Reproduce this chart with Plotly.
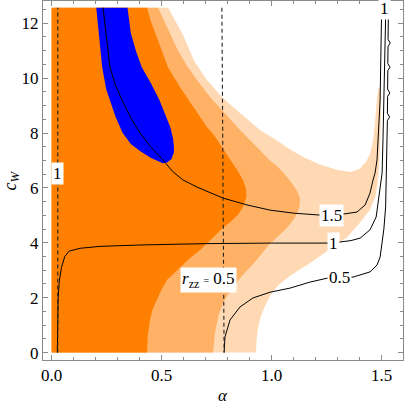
import plotly.graph_objects as go

# ---------------- data (alpha, c_W) ----------------
# outer (lightest orange) region boundary
light_alpha = [0.0, 0.929, 0.932, 0.938, 0.95, 0.97, 0.995, 1.03, 1.084, 1.175, 1.26, 1.343, 1.40,
               1.447, 1.472, 1.482, 1.488, 1.493, 1.497, 1.497, 1.492, 1.486, 1.478, 1.47, 1.462,
               1.45, 1.43, 1.40, 1.36, 1.30, 1.22, 1.143, 1.084, 1.038, 0.947, 0.856, 0.774,
               0.706, 0.65, 0.593, 0.56, 0.529, 0.0]
light_c = [0.0, 0.0, 0.5, 0.9, 1.3, 1.7, 2.1, 2.45, 2.8, 3.26, 3.74, 4.2, 4.72,
           5.2, 5.7, 6.2, 6.8, 7.75, 8.6, 9.3, 9.6, 9.65, 9.2, 8.4, 7.8,
           7.3, 6.95, 6.7, 6.58, 6.65, 6.85, 7.13, 7.4, 7.65, 8.11, 8.73, 9.31,
           9.93, 10.6, 11.64, 12.1, 12.566, 12.566]

# middle orange region boundary
mid_alpha = [0.0, 0.734, 0.742, 0.76, 0.785, 0.815, 0.85, 0.89, 0.935, 0.985, 1.03, 1.07, 1.10,
             1.118, 1.128, 1.128, 1.115, 1.09, 1.06, 1.03, 0.993, 0.955, 0.915, 0.843, 0.774,
             0.72, 0.661, 0.615, 0.575, 0.538, 0.51, 0.484, 0.0]
mid_c = [0.0, 0.0, 0.7, 1.4, 1.9, 2.3, 2.65, 3.0, 3.4, 3.9, 4.25, 4.55, 4.85,
         5.1, 5.4, 5.65, 5.9, 6.2, 6.5, 6.75, 7.0, 7.3, 7.64, 8.22, 8.84,
         9.31, 9.93, 10.45, 11.0, 11.64, 12.1, 12.566, 12.566]

# dark orange region boundary
dark_alpha = [0.0, 0.434, 0.437, 0.447, 0.46, 0.479, 0.5, 0.525, 0.584, 0.63, 0.675, 0.734, 0.78,
              0.811, 0.845, 0.87, 0.885, 0.884, 0.87, 0.843, 0.805, 0.775, 0.74, 0.706, 0.643,
              0.584, 0.529, 0.50, 0.47, 0.45, 0.434, 0.0]
dark_c = [0.0, 0.0, 0.6, 1.19, 1.6, 1.95, 2.3, 2.65, 3.12, 3.45, 3.74, 4.21, 4.55,
          4.75, 5.0, 5.3, 5.65, 5.95, 6.29, 6.65, 7.1, 7.5, 7.9, 8.22, 8.95,
          9.67, 10.4, 11.0, 11.64, 12.1, 12.566, 12.566]

# blue region boundary
blue_alpha = [0.203, 0.216, 0.23, 0.248, 0.264, 0.29, 0.323, 0.36, 0.40, 0.45, 0.505, 0.525,
              0.545, 0.556, 0.556, 0.552, 0.54, 0.515, 0.49, 0.452, 0.41, 0.383, 0.36, 0.345]
blue_c = [12.566, 11.5, 10.4, 9.6, 9.2, 8.6, 8.0, 7.6, 7.35, 7.1, 6.9, 6.93,
          7.05, 7.3, 7.5, 7.8, 8.2, 8.7, 9.2, 9.8, 10.4, 11.0, 11.64, 12.566]

# contour lines
c15_alpha = [0.234, 0.25, 0.265, 0.29, 0.32, 0.36, 0.402, 0.45, 0.506, 0.55, 0.597, 0.661, 0.72,
             0.779, 0.888, 0.993, 1.10, 1.22, 1.32, 1.388, 1.425, 1.447, 1.461, 1.47, 1.479,
             1.484, 1.493, 1.50]
c15_c = [12.566, 11.4, 10.4, 9.75, 9.2, 8.55, 8.0, 7.5, 7.02, 6.6, 6.29, 6.03, 5.82,
         5.63, 5.38, 5.19, 5.08, 5.01, 5.04, 5.12, 5.38, 5.81, 6.29, 6.54, 7.02,
         7.75, 9.2, 12.566]

c10_alpha = [0.026, 0.027, 0.03, 0.035, 0.045, 0.06, 0.08, 0.13, 0.22, 0.4, 0.7, 1.0, 1.257,
             1.311, 1.36, 1.402, 1.447, 1.475, 1.484, 1.495, 1.502, 1.506, 1.512, 1.519]
c10_c = [0.0, 1.0, 2.0, 2.6, 3.1, 3.5, 3.7, 3.8, 3.87, 3.92, 3.97, 3.99, 3.99,
         4.03, 4.08, 4.17, 4.47, 4.94, 5.45, 6.0, 6.54, 7.75, 10.0, 12.566]

c05_alpha = [0.784, 0.788, 0.811, 0.856, 0.915, 0.993, 1.084, 1.175, 1.257, 1.37, 1.447, 1.479,
             1.493, 1.502, 1.51, 1.518, 1.522, 1.525, 1.526, 1.536, 1.526, 1.527, 1.537, 1.527,
             1.528, 1.538, 1.528, 1.529, 1.539, 1.529, 1.531]
c05_c = [0.0, 0.57, 1.19, 1.66, 1.99, 2.2, 2.35, 2.57, 2.72, 2.75, 2.94, 3.19,
         3.48, 3.99, 4.5, 5.3, 6.5, 7.75, 8.45, 8.58, 8.72, 9.33, 9.46, 9.6,
         10.27, 10.4, 10.53, 11.15, 11.28, 11.41, 12.566]

# dashed r_zz lines
dash1_alpha = [0.028, 0.028]
dash1_c = [0.0, 12.566]
dash2_alpha = [0.774, 0.784]
dash2_c = [12.566, 0.0]

# labels
label_text = ["1.5", "1", "0.5", "1", "1",
              "<i>r</i><sub>zz</sub> <span style='font-size:10px'>=</span> 0.5"]
label_alpha = [1.27, 1.279, 1.31, 1.515, 0.029, 0.711]
label_c = [5.01, 3.99, 2.75, 12.52, 6.52, 2.66]

x_tickvals = [0.0, 0.5, 1.0, 1.5]
x_ticktext = ["0.0", "0.5", "1.0", "1.5"]
y_tickvals = [0, 2, 4, 6, 8, 10, 12]

# ---------------- figure ----------------
LIGHT = "#FFD9B3"
MID = "#FFB266"
DARK = "#FF8000"
BLUE = "#0000FF"
SERIF = "Liberation Serif"

fig = go.Figure()
for xs, ys, col in [(light_alpha, light_c, LIGHT), (mid_alpha, mid_c, MID),
                    (dark_alpha, dark_c, DARK), (blue_alpha, blue_c, BLUE)]:
    fig.add_trace(go.Scatter(x=xs, y=ys, mode="lines", fill="toself", fillcolor=col,
                             line=dict(width=0, color=col), hoverinfo="skip", showlegend=False))

for xs, ys in [(c15_alpha, c15_c), (c10_alpha, c10_c), (c05_alpha, c05_c)]:
    fig.add_trace(go.Scatter(x=xs, y=ys, mode="lines", line=dict(color="black", width=1),
                             hoverinfo="skip", showlegend=False))

for xs, ys in [(dash1_alpha, dash1_c), (dash2_alpha, dash2_c)]:
    fig.add_trace(go.Scatter(x=xs, y=ys, mode="lines",
                             line=dict(color="#222222", width=1.1, dash="4px,3px"),
                             hoverinfo="skip", showlegend=False))

for t, a, c in zip(label_text, label_alpha, label_c):
    fig.add_annotation(x=a, y=c, text=t, showarrow=False, bgcolor="white", borderpad=1,
                       font=dict(family=SERIF, size=17, color="black"))

# axis titles
fig.add_annotation(xref="paper", yref="paper", x=0.5, y=0, yshift=-35, yanchor="middle",
                   text="<i>α</i>", showarrow=False, font=dict(family=SERIF, size=17, color="black"))
fig.add_annotation(xref="paper", yref="paper", x=0, y=0.5, xshift=-32, xanchor="center",
                   textangle=-90, text="<i>c</i><sub><i>W</i></sub>", showarrow=False,
                   font=dict(family=SERIF, size=18, color="black"))

FRAME = "#8a8a8a"
fig.update_xaxes(range=[-0.039, 1.597], showline=True, linecolor=FRAME, linewidth=1,
                 mirror="allticks", ticks="inside", ticklen=5, tickcolor=FRAME,
                 tickvals=x_tickvals, ticktext=x_ticktext, showgrid=False, zeroline=False,
                 automargin=False,
                 tickfont=dict(family=SERIF, size=17, color="black"),
                 minor=dict(ticks="inside", ticklen=3, dtick=0.1, tick0=0, tickcolor=FRAME,
                            showgrid=False))
fig.update_yaxes(range=[-0.27, 12.81], showline=True, linecolor=FRAME, linewidth=1,
                 mirror="allticks", ticks="inside", ticklen=5, tickcolor=FRAME,
                 tickvals=y_tickvals, showgrid=False, zeroline=False,
                 automargin=False,
                 tickfont=dict(family=SERIF, size=17, color="black"),
                 minor=dict(ticks="inside", ticklen=3, dtick=0.5, tick0=0, tickcolor=FRAME,
                            showgrid=False))

fig.update_layout(width=405, height=405, margin=dict(l=43, r=2, t=1, b=45),
                  paper_bgcolor="white", plot_bgcolor="white", showlegend=False)

fig.write_html("out.html", config={"displayModeBar": False},
               post_script="document.body.style.margin='0';")
